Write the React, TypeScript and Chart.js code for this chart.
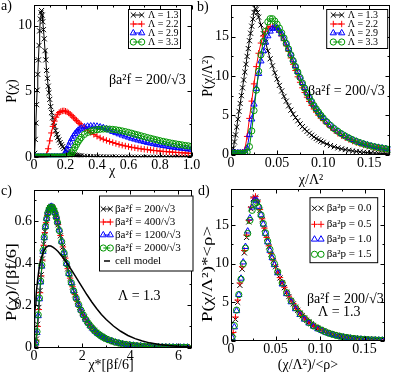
import React, { useEffect, useRef } from "react";
import { Chart, registerables } from "chart.js";
Chart.register(...registerables);

const FONT = '"Liberation Serif", "Times New Roman", serif';
Chart.defaults.font.family = FONT;
Chart.defaults.color = "#000";

// ---------- Panel a: P(chi) ----------
const XA1 = [0,0.004,0.008,0.012,0.016,0.02,0.024,0.028,0.032,0.036,0.04,0.044,0.048,0.052,0.056,0.06,0.065,0.07,0.075,0.08,0.085,0.09,0.095,0.1,0.106,0.112,0.118,0.124,0.13,0.137,0.144,0.151,0.158,0.166,0.174,0.182,0.19,0.2,0.21,0.22,0.23,0.24,0.25,0.26,0.27,0.28,0.29,0.3,0.32,0.34,0.36,0.38,0.4,0.42,0.44,0.46,0.48,0.5,0.52,0.54,0.56,0.58,0.6,0.62,0.64,0.66,0.68,0.7,0.72,0.74,0.76,0.78,0.8,0.82,0.84,0.86,0.88,0.9,0.92,0.94,0.96,0.98,1];
const A_BLACK = [0,0.3,1.36,2.6,4.0,5.1,6.3,7.4,8.5,9.6,10.5,11.0,11.15,10.8,10.3,9.7,9.0,8.1,7.4,6.6,6.0,5.4,4.9,4.4,3.85,3.4,3.0,2.66,2.36,2.02,1.75,1.52,1.32,1.12,0.95,0.81,0.68,0.55,0.44,0.36,0.3,0.25,0.21,0.18,0.15,0.13,0.11,0.1,0.08,0.066,0.055,0.046,0.04,0.035,0.03,0.026,0.023,0.02,0.018,0.016,0.014,0.013,0.012,0.011,0.01,0.009,0.008,0.008,0.007,0.007,0.006,0.006,0.005,0.005,0.005,0.004,0.004,0.004,0.003,0.003,0.003,0.003,0.002];
const XA = [0,0.01,0.02,0.03,0.04,0.05,0.06,0.07,0.08,0.09,0.1,0.11,0.12,0.13,0.14,0.15,0.16,0.17,0.18,0.19,0.2,0.21,0.22,0.23,0.24,0.25,0.26,0.27,0.28,0.29,0.3,0.32,0.34,0.36,0.38,0.4,0.42,0.44,0.46,0.48,0.5,0.52,0.54,0.56,0.58,0.6,0.62,0.64,0.66,0.68,0.7,0.72,0.74,0.76,0.78,0.8,0.82,0.84,0.86,0.88,0.9,0.92,0.94,0.96,0.98,1];
const A_RED = [0,0,0,0,0,0,0,0.02,0.2,0.65,1.25,1.85,2.35,2.75,3.05,3.27,3.4,3.48,3.52,3.53,3.5,3.45,3.37,3.27,3.16,3.04,2.92,2.8,2.68,2.57,2.46,2.25,2.06,1.89,1.74,1.6,1.47,1.37,1.28,1.2,1.12,1.05,0.98,0.92,0.86,0.81,0.76,0.72,0.68,0.64,0.61,0.58,0.55,0.52,0.5,0.47,0.45,0.43,0.41,0.39,0.37,0.36,0.34,0.33,0.31,0.3];
const A_BLUE = [0.02,0.02,0.02,0.02,0.02,0.02,0.02,0.02,0.02,0.02,0.02,0.02,0.02,0.02,0.02,0.02,0.02,0.02,0.06,0.15,0.35,0.6,0.88,1.15,1.4,1.6,1.78,1.92,2.04,2.13,2.2,2.3,2.35,2.37,2.37,2.35,2.3,2.24,2.16,2.06,1.95,1.86,1.77,1.68,1.6,1.52,1.44,1.37,1.3,1.24,1.18,1.12,1.07,1.02,0.97,0.93,0.89,0.85,0.81,0.77,0.74,0.71,0.68,0.65,0.62,0.6];
const A_GREEN = [0.02,0.02,0.02,0.02,0.02,0.02,0.02,0.02,0.02,0.02,0.02,0.02,0.02,0.02,0.02,0.02,0.02,0.02,0.02,0.02,0.02,0.02,0.06,0.15,0.32,0.52,0.75,0.97,1.18,1.36,1.51,1.74,1.89,1.99,2.06,2.1,2.13,2.15,2.15,2.14,2.12,2.09,2.05,2.0,1.95,1.89,1.83,1.76,1.7,1.63,1.57,1.5,1.44,1.38,1.32,1.26,1.21,1.16,1.11,1.06,1.02,0.98,0.94,0.9,0.87,0.84];

// ---------- Panel b: P(chi/Lambda^2) ----------
const XB1 = [0,0.00125,0.0025,0.00375,0.005,0.00625,0.0075,0.00875,0.01,0.01125,0.0125,0.01375,0.015,0.01625,0.0175,0.01875,0.02,0.02125,0.0225,0.02375,0.025,0.02625,0.0275,0.02875,0.03,0.0325,0.035,0.0375,0.04,0.0425,0.045,0.0475,0.05,0.0525,0.055,0.0575,0.06,0.0625,0.065,0.0675,0.07,0.0725,0.075,0.0775,0.08,0.0825,0.085,0.0875,0.09,0.0925,0.095,0.0975,0.1,0.104,0.108,0.112,0.116,0.12,0.124,0.128,0.132,0.136,0.14,0.144,0.148,0.152,0.156,0.16,0.164,0.168,0.172];
const B_BLACK = [0.1,0.3,0.8,1.6,2.5,3.5,4.5,5.5,6.5,7.5,8.5,9.5,10.5,11.5,12.5,13.5,14.5,15.45,16.35,17.25,18.1,18.6,18.5,18.1,17.5,16.5,15.4,14.3,13.2,12.2,11.3,10.4,9.6,8.8,8.1,7.4,6.8,6.2,5.65,5.15,4.7,4.3,3.9,3.55,3.25,2.95,2.7,2.46,2.24,2.04,1.86,1.7,1.55,1.33,1.14,0.98,0.84,0.72,0.62,0.53,0.45,0.39,0.33,0.28,0.24,0.21,0.18,0.15,0.13,0.11,0.1];
const XB = [0,0.0025,0.005,0.0075,0.01,0.0125,0.015,0.0175,0.02,0.0225,0.025,0.0275,0.03,0.0325,0.035,0.0375,0.04,0.0425,0.045,0.0475,0.05,0.0525,0.055,0.0575,0.06,0.0625,0.065,0.0675,0.07,0.0725,0.075,0.0775,0.08,0.0825,0.085,0.0875,0.09,0.0925,0.095,0.0975,0.1,0.104,0.108,0.112,0.116,0.12,0.124,0.128,0.132,0.136,0.14,0.144,0.148,0.152,0.156,0.16,0.164,0.168,0.172];
const B_RED = [0.2,0.2,0.2,0.2,0.2,0.25,0.6,2.3,4.6,6.8,9.0,11.2,12.9,14.2,15.1,15.7,16.1,16.3,16.3,16.2,16.0,15.6,15.1,14.5,13.85,13.15,12.3,11.5,10.7,9.9,9.2,8.5,7.9,7.3,6.75,6.25,5.8,5.4,5.0,4.65,4.35,3.9,3.45,3.05,2.7,2.4,2.13,1.9,1.7,1.51,1.35,1.21,1.09,0.98,0.88,0.8,0.72,0.66,0.6];
const B_BLUE = [0.2,0.2,0.2,0.2,0.2,0.2,0.25,0.8,2.5,4.5,6.4,8.4,10.3,11.9,13.2,14.3,15.1,15.7,16.05,16.2,16.1,15.8,15.35,14.8,14.2,13.5,12.8,12.05,11.3,10.55,9.85,9.15,8.5,7.9,7.35,6.8,6.3,5.85,5.45,5.05,4.7,4.2,3.75,3.33,2.97,2.65,2.36,2.1,1.88,1.68,1.5,1.35,1.21,1.09,0.99,0.9,0.82,0.75,0.69];
const B_GREEN = [0.15,0.15,0.15,0.15,0.15,0.15,0.15,0.3,1.0,3.0,5.6,8.2,10.6,12.7,14.4,15.7,16.9,17.3,17.3,17.0,16.6,16.1,15.5,14.85,14.15,13.45,12.7,11.95,11.2,10.5,9.8,9.1,8.45,7.85,7.3,6.75,6.25,5.8,5.4,5.0,4.65,4.15,3.7,3.3,2.95,2.63,2.35,2.1,1.87,1.67,1.5,1.34,1.2,1.08,0.97,0.88,0.8,0.73,0.67];

// ---------- Panel c: P(chi)/[beta f/6] ----------
const XC = [0.05,0.1,0.15,0.2,0.25,0.3,0.35,0.4,0.45,0.5,0.55,0.6,0.65,0.7,0.75,0.8,0.85,0.9,0.95,1.0,1.1,1.2,1.3,1.4,1.5,1.6,1.7,1.8,1.9,2.0,2.1,2.2,2.3,2.4,2.5,2.6,2.7,2.8,2.9,3.0,3.15,3.3,3.45,3.6,3.75,3.9,4.05,4.2,4.35,4.5,4.65,4.8,4.95,5.1,5.25,5.4,5.55,5.7,5.85,6.0,6.15,6.3,6.45];
const C_BLACK = [0.005,0.04,0.11,0.19,0.27,0.345,0.42,0.49,0.55,0.595,0.628,0.65,0.663,0.668,0.667,0.66,0.648,0.63,0.607,0.582,0.53,0.476,0.423,0.373,0.328,0.287,0.25,0.218,0.19,0.165,0.143,0.124,0.108,0.094,0.082,0.071,0.062,0.054,0.047,0.041,0.034,0.028,0.023,0.019,0.016,0.013,0.011,0.009,0.0075,0.006,0.005,0.004,0.0035,0.003,0.0025,0.002,0.002,0.0015,0.0015,0.001,0.001,0.001,0.001];
const C_RED = [0.004,0.035,0.1,0.18,0.26,0.34,0.415,0.485,0.545,0.592,0.626,0.649,0.662,0.667,0.666,0.659,0.647,0.63,0.608,0.583,0.531,0.477,0.424,0.374,0.329,0.288,0.251,0.219,0.19,0.165,0.143,0.124,0.108,0.094,0.082,0.071,0.062,0.054,0.047,0.041,0.034,0.028,0.023,0.019,0.016,0.013,0.011,0.009,0.0075,0.006,0.005,0.004,0.0035,0.003,0.0025,0.002,0.002,0.0015,0.0015,0.001,0.001,0.001,0.001];
const XC2 = [0.025,0.075,0.125,0.175,0.225,0.275,0.325,0.375,0.425,0.475,0.525,0.575,0.625,0.675,0.725,0.775,0.825,0.875,0.925,0.975,1.05,1.15,1.25,1.35,1.45,1.55,1.65,1.75,1.85,1.95,2.05,2.15,2.25,2.35,2.45,2.55,2.65,2.75,2.85,2.95,3.075,3.225,3.375,3.525,3.675,3.825,3.975,4.125,4.275,4.425,4.575,4.725,4.875,5.025,5.175,5.325,5.475,5.625,5.775,5.925,6.075,6.225,6.375];
const C_BLUE = [0.0,0.02,0.07,0.15,0.23,0.31,0.385,0.455,0.52,0.573,0.612,0.64,0.658,0.667,0.669,0.665,0.655,0.64,0.62,0.595,0.557,0.503,0.45,0.398,0.35,0.307,0.268,0.234,0.204,0.177,0.154,0.133,0.116,0.101,0.088,0.076,0.066,0.058,0.05,0.044,0.037,0.031,0.025,0.021,0.017,0.014,0.012,0.01,0.008,0.007,0.0055,0.0045,0.004,0.003,0.0028,0.0022,0.002,0.0018,0.0015,0.0012,0.001,0.001,0.001];
const C_GREEN = [0.0,0.025,0.075,0.155,0.235,0.315,0.39,0.46,0.523,0.574,0.611,0.638,0.655,0.664,0.666,0.662,0.652,0.637,0.617,0.593,0.555,0.502,0.449,0.398,0.35,0.307,0.268,0.234,0.204,0.177,0.154,0.133,0.116,0.101,0.088,0.076,0.066,0.058,0.05,0.044,0.037,0.031,0.025,0.021,0.017,0.014,0.012,0.01,0.008,0.007,0.0055,0.0045,0.004,0.003,0.0028,0.0022,0.002,0.0018,0.0015,0.0012,0.001,0.001,0.001];
const XCM = [0,0.01,0.02,0.04,0.06,0.08,0.1,0.15,0.2,0.25,0.3,0.4,0.5,0.6,0.7,0.8,0.9,1.0,1.2,1.4,1.6,1.8,2.0,2.2,2.4,2.6,2.8,3.0,3.3,3.6,3.9,4.2,4.5,4.8,5.2,5.6,6.0,6.55];
const C_CELL = [0,0.06,0.1,0.16,0.2,0.235,0.265,0.32,0.365,0.4,0.425,0.457,0.475,0.482,0.481,0.475,0.466,0.455,0.427,0.395,0.36,0.323,0.286,0.25,0.216,0.185,0.157,0.133,0.102,0.077,0.057,0.042,0.031,0.022,0.014,0.009,0.005,0.002];

// ---------- Panel d: P(chi/Lambda^2)*<rho> ----------
const D_BLACK = [0,0.9,2.8,5.0,7.2,9.3,11.4,13.4,15.4,17.1,18.4,18.6,18.0,16.9,15.7,14.5,13.3,12.2,11.2,10.4,9.6,8.85,8.15,7.5,6.9,6.3,5.75,5.25,4.8,4.37,3.97,3.6,3.27,2.97,2.7,2.45,2.22,2.01,1.82,1.65,1.5,1.28,1.09,0.93,0.79,0.67,0.57,0.48,0.41,0.35,0.3,0.25,0.21,0.18,0.15,0.13,0.11,0.1,0.09];
const D_RED = [0.1,1.1,3.1,5.3,7.5,9.6,11.7,13.7,15.6,17.3,18.5,18.7,18.1,17.0,15.8,14.6,13.4,12.3,11.3,10.45,9.65,8.9,8.2,7.55,6.95,6.35,5.8,5.3,4.85,4.42,4.02,3.65,3.31,3.0,2.73,2.48,2.25,2.04,1.85,1.67,1.52,1.3,1.11,0.95,0.81,0.69,0.58,0.49,0.42,0.36,0.31,0.26,0.22,0.19,0.16,0.14,0.12,0.1,0.09];
const XD2 = [0.00125,0.00375,0.00625,0.00875,0.01125,0.01375,0.01625,0.01875,0.02125,0.02375,0.02625,0.02875,0.03125,0.03375,0.03625,0.03875,0.04125,0.04375,0.04625,0.04875,0.0525,0.0575,0.0625,0.0675,0.0725,0.0775,0.0825,0.0875,0.0925,0.0975,0.102,0.106,0.11,0.114,0.118,0.122,0.126,0.13,0.134,0.138,0.142,0.146,0.15,0.154,0.158,0.162,0.166,0.17];
const D_BLUE = [0.4,1.8,3.9,6.0,8.1,10.2,12.2,14.2,15.9,17.3,18.2,18.2,17.4,16.3,15.1,13.9,12.8,11.7,10.75,9.85,8.8,7.35,6.1,5.05,4.15,3.4,2.8,2.3,1.9,1.56,1.33,1.13,0.96,0.82,0.7,0.59,0.5,0.43,0.36,0.31,0.26,0.22,0.19,0.16,0.14,0.12,0.1,0.09];
const D_GREEN = [0.5,2.0,4.0,6.0,8.0,10.0,12.0,13.9,15.6,16.9,17.8,17.9,17.3,16.3,15.2,14.0,12.9,11.85,10.9,10.0,8.95,7.5,6.25,5.2,4.3,3.55,2.92,2.4,1.98,1.64,1.4,1.19,1.01,0.86,0.73,0.62,0.53,0.45,0.38,0.32,0.27,0.23,0.2,0.17,0.15,0.13,0.11,0.1];

// ---------- labels ----------
const LAMBDA_LABELS = ["Λ = 1.3", "Λ = 2.2", "Λ = 2.9", "Λ = 3.3"];
const FORCE_LABELS = ["βa²f = 200/√3", "βa²f = 400/√3", "βa²f = 1200/√3", "βa²f = 2000/√3", "cell model"];
const PRESS_LABELS = ["βa²p = 0.0", "βa²p = 0.5", "βa²p = 1.0", "βa²p = 1.5"];

type Marker = "crossRot" | "cross" | "triangle" | "circle" | null;
interface Sty { color: string; marker: Marker; r: number }
const S_BLACK: Sty = { color: "#000000", marker: "crossRot", r: 3.6 };
const S_RED: Sty = { color: "#ff0000", marker: "cross", r: 3.2 };
const S_BLUE: Sty = { color: "#0000ff", marker: "triangle", r: 3.6 };
const S_GREEN: Sty = { color: "rgb(0,150,0)", marker: "circle", r: 3.1 };
const S_CELL: Sty = { color: "#000000", marker: null, r: 0 };

interface Series extends Sty { xs: number[]; ys: number[]; line: boolean; lw?: number }
interface TextDef { t: string; x: number; y: number; size: number; align?: CanvasTextAlign; base?: CanvasTextBaseline; rot?: boolean; w?: number }
interface LegendRow { y: number; label: string; s: Sty; lineOnly?: [number, number] }
interface LegendDef { box: [number, number, number, number]; size: number; textX: number; mx: [number, number]; line: boolean; rows: LegendRow[] }
interface PanelDef {
  area: { l: number; r: number; t: number; b: number };
  x: { min: number; max: number; step: number };
  y: { min: number; max: number; step: number };
  series: Series[];
  texts: TextDef[];
  legend: LegendDef;
}

const PANELS: PanelDef[] = [
  {
    area: { l: 34, r: 191.5, t: 1, b: 157.3 },
    x: { min: 0, max: 1, step: 0.2 },
    y: { min: 0, max: 11.6, step: 5 },
    series: [
      { xs: XA1, ys: A_BLACK, ...S_BLACK, line: true },
      { xs: XA, ys: A_RED, ...S_RED, line: true },
      { xs: XA, ys: A_BLUE, ...S_BLUE, line: true },
      { xs: XA, ys: A_GREEN, ...S_GREEN, line: true },
    ],
    texts: [
      { t: "a)", x: 1, y: 10, size: 14 },
      { t: "P(χ)", x: 12.5, y: 91, size: 14, align: "center", base: "middle", rot: true },
      { t: "χ", x: 112, y: 175, size: 14, align: "center" },
      { t: "βa²f = 200/√3", x: 109, y: 84, size: 14 },
    ],
    legend: {
      box: [128.5, 9.5, 180.5, 48.5], size: 10, textX: 148, mx: [133.3, 141.7], line: true,
      rows: [
        { y: 15, label: LAMBDA_LABELS[0], s: S_BLACK },
        { y: 24, label: LAMBDA_LABELS[1], s: S_RED },
        { y: 33, label: LAMBDA_LABELS[2], s: S_BLUE },
        { y: 42, label: LAMBDA_LABELS[3], s: S_GREEN },
      ],
    },
  },
  {
    area: { l: 231, r: 391.7, t: 1, b: 154.5 },
    x: { min: 0, max: 0.173, step: 0.05 },
    y: { min: 0, max: 19.1, step: 5 },
    series: [
      { xs: XB1, ys: B_BLACK, ...S_BLACK, line: true },
      { xs: XB, ys: B_RED, ...S_RED, line: true },
      { xs: XB, ys: B_BLUE, ...S_BLUE, line: true },
      { xs: XB, ys: B_GREEN, ...S_GREEN, line: true },
    ],
    texts: [
      { t: "b)", x: 197, y: 11, size: 14 },
      { t: "P(χ/Λ²)", x: 208.5, y: 76, size: 14, align: "center", base: "middle", rot: true },
      { t: "χ/Λ²", x: 311, y: 183.5, size: 14, align: "center" },
      { t: "βa²f = 200/√3", x: 308, y: 95, size: 14 },
    ],
    legend: {
      box: [326.7, 9.5, 387.7, 48.5], size: 10, textX: 347.7, mx: [333.3, 341.7], line: true,
      rows: [
        { y: 15, label: LAMBDA_LABELS[0], s: S_BLACK },
        { y: 24, label: LAMBDA_LABELS[1], s: S_RED },
        { y: 33, label: LAMBDA_LABELS[2], s: S_BLUE },
        { y: 42, label: LAMBDA_LABELS[3], s: S_GREEN },
      ],
    },
  },
  {
    area: { l: 34, r: 191.7, t: 190, b: 347.5 },
    x: { min: 0, max: 6.55, step: 2 },
    y: { min: 0, max: 0.747, step: 0.2 },
    series: [
      { xs: XC, ys: C_BLACK, ...S_BLACK, line: true },
      { xs: XC, ys: C_RED, ...S_RED, line: true },
      { xs: XC2, ys: C_BLUE, ...S_BLUE, line: true },
      { xs: XC2, ys: C_GREEN, ...S_GREEN, line: true },
      { xs: XCM, ys: C_CELL, ...S_CELL, line: true, lw: 1.5 },
    ],
    texts: [
      { t: "c)", x: 1, y: 195, size: 14 },
      { t: "P(χ)/[βf/6]", x: 12, y: 282, size: 14, align: "center", base: "middle", rot: true, w: 78 },
      { t: "χ*[βf/6]", x: 111, y: 369, size: 14, align: "center" },
      { t: "Λ = 1.3", x: 118, y: 300, size: 14 },
    ],
    legend: {
      box: [99.5, 196, 193, 271], size: 11, textX: 115, mx: [103.3, 110.3], line: true,
      rows: [
        { y: 209, label: FORCE_LABELS[0], s: S_BLACK },
        { y: 222, label: FORCE_LABELS[1], s: S_RED },
        { y: 235, label: FORCE_LABELS[2], s: S_BLUE },
        { y: 248, label: FORCE_LABELS[3], s: S_GREEN },
        { y: 261, label: FORCE_LABELS[4], s: S_CELL, lineOnly: [104, 110] },
      ],
    },
  },
  {
    area: { l: 231, r: 385, t: 189, b: 341 },
    x: { min: 0, max: 0.173, step: 0.05 },
    y: { min: 0, max: 19.66, step: 5 },
    series: [
      { xs: XB, ys: D_BLACK, ...S_BLACK, line: false },
      { xs: XB, ys: D_RED, ...S_RED, line: false },
      { xs: XD2, ys: D_BLUE, ...S_BLUE, line: false },
      { xs: XD2, ys: D_GREEN, ...S_GREEN, line: false },
    ],
    texts: [
      { t: "d)", x: 198, y: 195, size: 14 },
      { t: "P(χ/Λ²)*<ρ>", x: 208, y: 274, size: 14, align: "center", base: "middle", rot: true, w: 96 },
      { t: "(χ/Λ²)/<ρ>", x: 308, y: 368.5, size: 14, align: "center" },
      { t: "βa²f = 200/√3", x: 307, y: 302.5, size: 14 },
      { t: "Λ = 1.3", x: 318, y: 316, size: 14 },
    ],
    legend: {
      box: [310, 197.7, 377.7, 262.7], size: 11, textX: 326.7, mx: [314.5, 321], line: false,
      rows: [
        { y: 208.3, label: PRESS_LABELS[0], s: S_BLACK },
        { y: 224.3, label: PRESS_LABELS[1], s: S_RED },
        { y: 239.3, label: PRESS_LABELS[2], s: S_BLUE },
        { y: 254.3, label: PRESS_LABELS[3], s: S_GREEN },
      ],
    },
  },
];

function drawMarker(ctx: CanvasRenderingContext2D, s: Sty, x: number, y: number) {
  if (!s.marker) return;
  const r = s.r;
  ctx.save();
  ctx.strokeStyle = s.color;
  ctx.lineWidth = 1;
  ctx.beginPath();
  if (s.marker === "crossRot") {
    const d = r * Math.SQRT1_2;
    ctx.moveTo(x - d, y - d); ctx.lineTo(x + d, y + d);
    ctx.moveTo(x - d, y + d); ctx.lineTo(x + d, y - d);
  } else if (s.marker === "cross") {
    ctx.moveTo(x - r, y); ctx.lineTo(x + r, y);
    ctx.moveTo(x, y - r); ctx.lineTo(x, y + r);
  } else if (s.marker === "triangle") {
    ctx.moveTo(x, y - r);
    ctx.lineTo(x + 0.866 * r, y + 0.5 * r);
    ctx.lineTo(x - 0.866 * r, y + 0.5 * r);
    ctx.closePath();
  } else {
    ctx.arc(x, y, r, 0, Math.PI * 2);
  }
  ctx.stroke();
  ctx.restore();
}

const px = (v: number) => Math.round(v) + 0.5;

function decorPlugin(p: PanelDef) {
  return {
    id: "decor",
    afterDraw(chart: any) {
      const ctx: CanvasRenderingContext2D = chart.ctx;
      const { left, right, top, bottom } = chart.chartArea;
      const sx = chart.scales.x, sy = chart.scales.y;
      ctx.save();
      ctx.strokeStyle = "#000";
      ctx.lineWidth = 1;
      const L = px(left), R = px(right) - 1, T = px(top), B = px(bottom) - 1;
      ctx.strokeRect(L, T, R - L, B - T);
      // inward ticks (major + one minor between)
      const tickList = (a: { min: number; max: number; step: number }) => {
        const out: { v: number; major: boolean }[] = [];
        for (let k = 0; ; k++) {
          const v = a.min + (k * a.step) / 2;
          if (v > a.max + 1e-9) break;
          out.push({ v, major: k % 2 === 0 });
        }
        return out;
      };
      ctx.beginPath();
      for (const t of tickList(p.x)) {
        const X = px(sx.getPixelForValue(t.v));
        const len = t.major ? 4 : 2;
        ctx.moveTo(X, B); ctx.lineTo(X, B - len);
        ctx.moveTo(X, T); ctx.lineTo(X, T + len);
      }
      for (const t of tickList(p.y)) {
        const Y = px(sy.getPixelForValue(t.v));
        const len = t.major ? 4 : 2;
        ctx.moveTo(L, Y); ctx.lineTo(L + len, Y);
        ctx.moveTo(R, Y); ctx.lineTo(R - len, Y);
      }
      ctx.stroke();

      // legend
      const lg = p.legend;
      const [x1, y1, x2, y2] = lg.box;
      ctx.fillStyle = "#fff";
      ctx.fillRect(x1, y1, x2 - x1, y2 - y1);
      ctx.strokeStyle = "#000";
      ctx.strokeRect(x1, y1, x2 - x1, y2 - y1);
      for (const row of lg.rows) {
        if (row.lineOnly) {
          ctx.strokeStyle = row.s.color;
          ctx.lineWidth = 1.5;
          ctx.beginPath();
          ctx.moveTo(row.lineOnly[0], row.y); ctx.lineTo(row.lineOnly[1], row.y);
          ctx.stroke();
          ctx.lineWidth = 1;
        } else {
          if (lg.line) {
            ctx.strokeStyle = row.s.color;
            ctx.beginPath();
            ctx.moveTo(lg.mx[0], row.y); ctx.lineTo(lg.mx[1], row.y);
            ctx.stroke();
          }
          drawMarker(ctx, row.s, lg.mx[0], row.y);
          drawMarker(ctx, row.s, lg.mx[1], row.y);
        }
        ctx.fillStyle = "#000";
        ctx.font = `${lg.size}px ${FONT}`;
        ctx.textAlign = "left";
        ctx.textBaseline = "middle";
        ctx.fillText(row.label, lg.textX, row.y);
      }

      // texts
      for (const t of p.texts) {
        ctx.save();
        ctx.fillStyle = "#000";
        ctx.font = `${t.size}px ${FONT}`;
        ctx.textAlign = t.align || "left";
        ctx.textBaseline = t.base || "alphabetic";
        ctx.translate(t.x, t.y);
        if (t.rot) ctx.rotate(-Math.PI / 2);
        if (t.w) {
          const m = ctx.measureText(t.t).width;
          if (m > 0) ctx.scale(t.w / m, 1);
        }
        ctx.fillText(t.t, 0, 0);
        ctx.restore();
      }
      ctx.restore();
    },
  };
}

const W_AXIS = 30;
const H_AXIS = 16;

function buildConfig(p: PanelDef): any {
  const n = p.series.length;
  return {
    type: "scatter",
    data: {
      datasets: p.series.map((s, i) => ({
        data: s.xs.map((x, j) => ({ x, y: s.ys[j] })),
        showLine: s.line,
        borderColor: s.color,
        backgroundColor: "rgba(0,0,0,0)",
        borderWidth: s.lw ?? 1,
        pointStyle: s.marker || false,
        pointRadius: s.marker ? s.r : 0,
        pointHoverRadius: s.marker ? s.r : 0,
        pointBorderColor: s.color,
        pointBackgroundColor: "rgba(0,0,0,0)",
        pointBorderWidth: 1,
        tension: 0,
        order: n - i,
      })),
    },
    options: {
      responsive: false,
      animation: false,
      devicePixelRatio: 1,
      events: [],
      layout: {
        padding: {
          left: p.area.l - W_AXIS,
          right: 395 - p.area.r,
          top: p.area.t,
          bottom: 374 - p.area.b - H_AXIS,
        },
      },
      plugins: { legend: { display: false }, tooltip: { enabled: false }, title: { display: false } },
      scales: {
        x: {
          type: "linear",
          min: p.x.min,
          max: p.x.max,
          grid: { display: false, drawTicks: false },
          border: { display: false },
          ticks: { stepSize: p.x.step, autoSkip: false, maxRotation: 0, includeBounds: false, padding: 0, font: { size: 14, family: FONT }, color: "#000" },
          afterFit: (s: any) => { s.height = H_AXIS; s.paddingLeft = 0; s.paddingRight = 0; },
        },
        y: {
          type: "linear",
          min: p.y.min,
          max: p.y.max,
          grid: { display: false, drawTicks: false },
          border: { display: false },
          ticks: { stepSize: p.y.step, autoSkip: false, includeBounds: false, padding: 2, font: { size: 14, family: FONT }, color: "#000" },
          afterFit: (s: any) => { s.width = W_AXIS; s.paddingTop = 0; s.paddingBottom = 0; },
        },
      },
    },
    plugins: [decorPlugin(p)],
  };
}

function Panel({ def }: { def: PanelDef }) {
  const ref = useRef<HTMLCanvasElement>(null);
  useEffect(() => {
    const chart = new Chart(ref.current as HTMLCanvasElement, buildConfig(def));
    return () => chart.destroy();
  }, [def]);
  return (
    <canvas
      ref={ref}
      width={395}
      height={374}
      style={{ position: "absolute", left: 0, top: 0, width: "395px", height: "374px" }}
    />
  );
}

export default function App() {
  return (
    <div style={{ position: "fixed", left: 0, top: 0, width: 395, height: 374, background: "#fff", overflow: "hidden" }}>
      {PANELS.map((p, i) => (
        <Panel key={i} def={p} />
      ))}
    </div>
  );
}
